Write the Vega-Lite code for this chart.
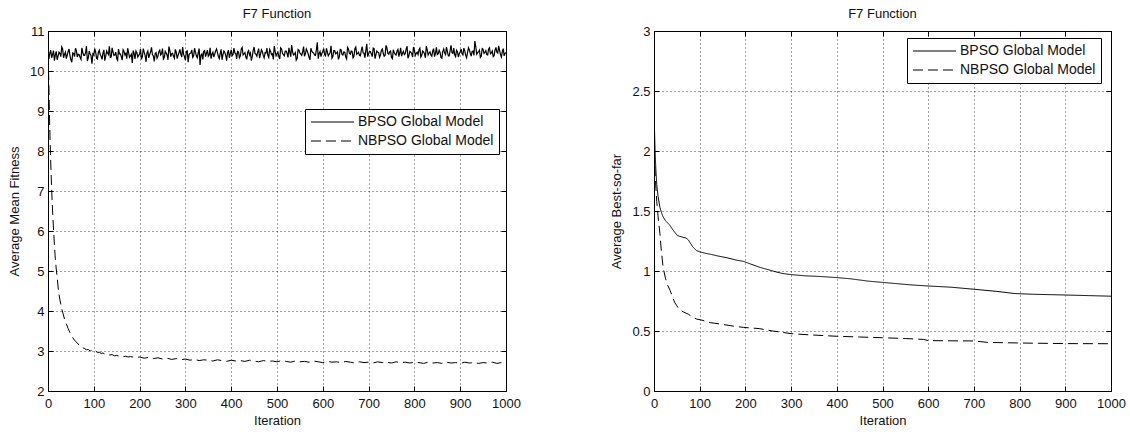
{
  "$schema": "https://vega.github.io/schema/vega-lite/v6.json",
  "background": "white",
  "padding": {"left": 8, "top": 7, "right": 0, "bottom": 0},
  "bounds": "flush",
  "spacing": 148,
  "config": {
    "font": "Liberation Sans",
    "view": {"stroke": "black", "strokeWidth": 1},
    "axis": {
      "labelFont": "Liberation Sans",
      "labelFontSize": 13,
      "labelColor": "#111",
      "labelFlush": false,
      "titleFont": "Liberation Sans",
      "titleFontSize": 13,
      "titleFontWeight": "normal",
      "titleColor": "#111",
      "domainColor": "black",
      "tickColor": "black",
      "tickSize": -5,
      "labelPadding": 11,
      "gridColor": "black",
      "gridDash": [1, 3],
      "gridOpacity": 0.75
    },
    "title": {"font": "Liberation Sans", "fontSize": 13, "fontWeight": "normal", "color": "#111", "offset": 4},
    "legend": {
      "symbolType": "stroke",
      "symbolSize": 1850,
      "symbolStrokeColor": "black",
      "symbolStrokeWidth": 1,
      "labelFont": "Liberation Sans",
      "labelFontSize": 14,
      "labelColor": "#111",
      "strokeColor": "black",
      "fillColor": "white",
      "padding": 5,
      "rowPadding": 3,
      "labelOffset": 3,
      "clipHeight": 16,
      "cornerRadius": 0
    }
  },
  "datasets": {
    "leftBPSO": [{"it":0,"v":10.38},{"it":4,"v":10.45},{"it":8,"v":10.33},{"it":12,"v":10.51},{"it":16,"v":10.40},{"it":20,"v":10.28},{"it":24,"v":10.47},{"it":28,"v":10.36},{"it":32,"v":10.55},{"it":36,"v":10.42},
{"it":40,"v":10.31},{"it":44,"v":10.49},{"it":48,"v":10.38},{"it":52,"v":10.22},{"it":56,"v":10.44},{"it":60,"v":10.57},{"it":64,"v":10.35},{"it":68,"v":10.41},{"it":72,"v":10.29},{"it":76,"v":10.46},
{"it":80,"v":10.39},{"it":84,"v":10.62},{"it":88,"v":10.33},{"it":92,"v":10.43},{"it":96,"v":10.18},{"it":100,"v":10.40},{"it":104,"v":10.48},{"it":108,"v":10.30},{"it":112,"v":10.52},{"it":116,"v":10.37},
{"it":120,"v":10.44},{"it":124,"v":10.26},{"it":128,"v":10.50},{"it":132,"v":10.41},{"it":136,"v":10.34},{"it":140,"v":10.58},{"it":144,"v":10.39},{"it":148,"v":10.47},{"it":152,"v":10.27},{"it":156,"v":10.43},
{"it":160,"v":10.36},{"it":164,"v":10.53},{"it":168,"v":10.40},{"it":172,"v":10.31},{"it":176,"v":10.46},{"it":180,"v":10.38},{"it":184,"v":10.20},{"it":188,"v":10.44},{"it":192,"v":10.50},{"it":196,"v":10.35},
{"it":200,"v":10.42},{"it":204,"v":10.29},{"it":208,"v":10.56},{"it":212,"v":10.39},{"it":216,"v":10.45},{"it":220,"v":10.33},{"it":224,"v":10.48},{"it":228,"v":10.41},{"it":232,"v":10.24},{"it":236,"v":10.46},
{"it":240,"v":10.37},{"it":244,"v":10.52},{"it":248,"v":10.43},{"it":252,"v":10.30},{"it":256,"v":10.49},{"it":260,"v":10.40},{"it":264,"v":10.61},{"it":268,"v":10.36},{"it":272,"v":10.44},{"it":276,"v":10.32},
{"it":280,"v":10.47},{"it":284,"v":10.39},{"it":288,"v":10.54},{"it":292,"v":10.35},{"it":296,"v":10.42},{"it":300,"v":10.27},{"it":304,"v":10.50},{"it":308,"v":10.41},{"it":312,"v":10.45},{"it":316,"v":10.34},
{"it":320,"v":10.57},{"it":324,"v":10.38},{"it":328,"v":10.46},{"it":332,"v":10.15},{"it":336,"v":10.43},{"it":340,"v":10.49},{"it":344,"v":10.36},{"it":348,"v":10.52},{"it":352,"v":10.40},{"it":356,"v":10.31},
{"it":360,"v":10.47},{"it":364,"v":10.42},{"it":368,"v":10.55},{"it":372,"v":10.37},{"it":376,"v":10.44},{"it":380,"v":10.28},{"it":384,"v":10.50},{"it":388,"v":10.39},{"it":392,"v":10.46},{"it":396,"v":10.33},
{"it":400,"v":10.53},{"it":404,"v":10.41},{"it":408,"v":10.45},{"it":412,"v":10.30},{"it":416,"v":10.48},{"it":420,"v":10.38},{"it":424,"v":10.59},{"it":428,"v":10.43},{"it":432,"v":10.35},{"it":436,"v":10.47},
{"it":440,"v":10.40},{"it":444,"v":10.26},{"it":448,"v":10.51},{"it":452,"v":10.44},{"it":456,"v":10.37},{"it":460,"v":10.56},{"it":464,"v":10.42},{"it":468,"v":10.48},{"it":472,"v":10.33},{"it":476,"v":10.45},
{"it":480,"v":10.39},{"it":484,"v":10.54},{"it":488,"v":10.41},{"it":492,"v":10.29},{"it":496,"v":10.49},{"it":500,"v":10.43},{"it":504,"v":10.36},{"it":508,"v":10.58},{"it":512,"v":10.44},{"it":516,"v":10.38},
{"it":520,"v":10.50},{"it":524,"v":10.34},{"it":528,"v":10.47},{"it":532,"v":10.65},{"it":536,"v":10.40},{"it":540,"v":10.46},{"it":544,"v":10.31},{"it":548,"v":10.52},{"it":552,"v":10.42},{"it":556,"v":10.48},
{"it":560,"v":10.37},{"it":564,"v":10.55},{"it":568,"v":10.43},{"it":572,"v":10.28},{"it":576,"v":10.50},{"it":580,"v":10.45},{"it":584,"v":10.39},{"it":588,"v":10.72},{"it":592,"v":10.44},{"it":596,"v":10.36},
{"it":600,"v":10.49},{"it":604,"v":10.41},{"it":608,"v":10.57},{"it":612,"v":10.38},{"it":616,"v":10.46},{"it":620,"v":10.32},{"it":624,"v":10.51},{"it":628,"v":10.43},{"it":632,"v":10.48},{"it":636,"v":10.35},
{"it":640,"v":10.53},{"it":644,"v":10.40},{"it":648,"v":10.47},{"it":652,"v":10.30},{"it":656,"v":10.55},{"it":660,"v":10.42},{"it":664,"v":10.49},{"it":668,"v":10.37},{"it":672,"v":10.60},{"it":676,"v":10.44},
{"it":680,"v":10.39},{"it":684,"v":10.51},{"it":688,"v":10.45},{"it":692,"v":10.33},{"it":696,"v":10.68},{"it":700,"v":10.43},{"it":704,"v":10.48},{"it":708,"v":10.36},{"it":712,"v":10.56},{"it":716,"v":10.41},
{"it":720,"v":10.47},{"it":724,"v":10.34},{"it":728,"v":10.52},{"it":732,"v":10.44},{"it":736,"v":10.39},{"it":740,"v":10.58},{"it":744,"v":10.42},{"it":748,"v":10.50},{"it":752,"v":10.31},{"it":756,"v":10.46},
{"it":760,"v":10.40},{"it":764,"v":10.54},{"it":768,"v":10.45},{"it":772,"v":10.37},{"it":776,"v":10.49},{"it":780,"v":10.43},{"it":784,"v":10.62},{"it":788,"v":10.38},{"it":792,"v":10.47},{"it":796,"v":10.35},
{"it":800,"v":10.52},{"it":804,"v":10.44},{"it":808,"v":10.41},{"it":812,"v":10.57},{"it":816,"v":10.39},{"it":820,"v":10.48},{"it":824,"v":10.33},{"it":828,"v":10.53},{"it":832,"v":10.45},{"it":836,"v":10.40},
{"it":840,"v":10.50},{"it":844,"v":10.36},{"it":848,"v":10.59},{"it":852,"v":10.43},{"it":856,"v":10.47},{"it":860,"v":10.32},{"it":864,"v":10.55},{"it":868,"v":10.41},{"it":872,"v":10.49},{"it":876,"v":10.38},
{"it":880,"v":10.64},{"it":884,"v":10.44},{"it":888,"v":10.40},{"it":892,"v":10.52},{"it":896,"v":10.35},{"it":900,"v":10.48},{"it":904,"v":10.43},{"it":908,"v":10.57},{"it":912,"v":10.39},{"it":916,"v":10.46},
{"it":920,"v":10.53},{"it":924,"v":10.37},{"it":928,"v":10.50},{"it":932,"v":10.75},{"it":936,"v":10.42},{"it":940,"v":10.48},{"it":944,"v":10.34},{"it":948,"v":10.56},{"it":952,"v":10.44},{"it":956,"v":10.51},
{"it":960,"v":10.40},{"it":964,"v":10.58},{"it":968,"v":10.45},{"it":972,"v":10.36},{"it":976,"v":10.52},{"it":980,"v":10.47},{"it":984,"v":10.63},{"it":988,"v":10.41},{"it":992,"v":10.49},{"it":996,"v":10.38},
{"it":1000,"v":10.46},
{"it":2,"v":10.30},{"it":6,"v":10.52},{"it":10,"v":10.41},{"it":14,"v":10.26},{"it":18,"v":10.49},{"it":22,"v":10.37},{"it":26,"v":10.44},{"it":30,"v":10.60},{"it":34,"v":10.33},{"it":38,"v":10.47},
{"it":42,"v":10.40},{"it":46,"v":10.55},{"it":50,"v":10.28},{"it":54,"v":10.45},{"it":58,"v":10.36},{"it":62,"v":10.51},{"it":66,"v":10.42},{"it":70,"v":10.34},{"it":74,"v":10.58},{"it":78,"v":10.39},
{"it":82,"v":10.46},{"it":86,"v":10.25},{"it":90,"v":10.50},{"it":94,"v":10.38},{"it":98,"v":10.43},{"it":102,"v":10.56},{"it":106,"v":10.32},{"it":110,"v":10.47},{"it":114,"v":10.41},{"it":118,"v":10.29},
{"it":122,"v":10.53},{"it":126,"v":10.37},{"it":130,"v":10.45},{"it":134,"v":10.62},{"it":138,"v":10.35},{"it":142,"v":10.48},{"it":146,"v":10.40},{"it":150,"v":10.31},{"it":154,"v":10.55},{"it":158,"v":10.43},
{"it":162,"v":10.27},{"it":166,"v":10.49},{"it":170,"v":10.44},{"it":174,"v":10.57},{"it":178,"v":10.34},{"it":182,"v":10.42},{"it":186,"v":10.51},{"it":190,"v":10.30},{"it":194,"v":10.46},{"it":198,"v":10.39},
{"it":202,"v":10.55},{"it":206,"v":10.36},{"it":210,"v":10.47},{"it":214,"v":10.23},{"it":218,"v":10.50},{"it":222,"v":10.41},{"it":226,"v":10.59},{"it":230,"v":10.38},{"it":234,"v":10.44},{"it":238,"v":10.32},
{"it":242,"v":10.48},{"it":246,"v":10.40},{"it":250,"v":10.56},{"it":254,"v":10.34},{"it":258,"v":10.45},{"it":262,"v":10.28},{"it":266,"v":10.52},{"it":270,"v":10.43},{"it":274,"v":10.37},{"it":278,"v":10.54},
{"it":282,"v":10.31},{"it":286,"v":10.46},{"it":290,"v":10.42},{"it":294,"v":10.60},{"it":298,"v":10.36},{"it":302,"v":10.49},{"it":306,"v":10.22},{"it":310,"v":10.44},{"it":314,"v":10.53},{"it":318,"v":10.38},
{"it":322,"v":10.47},{"it":326,"v":10.33},{"it":330,"v":10.56},{"it":334,"v":10.40},{"it":338,"v":10.29},{"it":342,"v":10.51},{"it":346,"v":10.44},{"it":350,"v":10.37},{"it":354,"v":10.58},{"it":358,"v":10.42},
{"it":362,"v":10.35},{"it":366,"v":10.50},{"it":370,"v":10.46},{"it":374,"v":10.31},{"it":378,"v":10.54},{"it":382,"v":10.41},{"it":386,"v":10.47},{"it":390,"v":10.26},{"it":394,"v":10.52},{"it":398,"v":10.43},
{"it":402,"v":10.38},{"it":406,"v":10.57},{"it":410,"v":10.44},{"it":414,"v":10.49},{"it":418,"v":10.33},{"it":422,"v":10.55},{"it":426,"v":10.40},{"it":430,"v":10.46},{"it":434,"v":10.29},{"it":438,"v":10.51},
{"it":442,"v":10.45},{"it":446,"v":10.36},{"it":450,"v":10.60},{"it":454,"v":10.42},{"it":458,"v":10.48},{"it":462,"v":10.32},{"it":466,"v":10.53},{"it":470,"v":10.39},{"it":474,"v":10.46},{"it":478,"v":10.57},
{"it":482,"v":10.34},{"it":486,"v":10.49},{"it":490,"v":10.43},{"it":494,"v":10.62},{"it":498,"v":10.38},{"it":502,"v":10.47},{"it":506,"v":10.30},{"it":510,"v":10.55},{"it":514,"v":10.41},{"it":518,"v":10.50},
{"it":522,"v":10.44},{"it":526,"v":10.58},{"it":530,"v":10.36},{"it":534,"v":10.48},{"it":538,"v":10.42},{"it":542,"v":10.27},{"it":546,"v":10.54},{"it":550,"v":10.45},{"it":554,"v":10.39},{"it":558,"v":10.61},
{"it":562,"v":10.43},{"it":566,"v":10.50},{"it":570,"v":10.34},{"it":574,"v":10.57},{"it":578,"v":10.46},{"it":582,"v":10.40},{"it":586,"v":10.53},{"it":590,"v":10.31},{"it":594,"v":10.49},{"it":598,"v":10.44},
{"it":602,"v":10.56},{"it":606,"v":10.38},{"it":610,"v":10.47},{"it":614,"v":10.42},{"it":618,"v":10.63},{"it":622,"v":10.36},{"it":626,"v":10.51},{"it":630,"v":10.45},{"it":634,"v":10.29},{"it":638,"v":10.54},
{"it":642,"v":10.41},{"it":646,"v":10.48},{"it":650,"v":10.35},{"it":654,"v":10.59},{"it":658,"v":10.44},{"it":662,"v":10.50},{"it":666,"v":10.33},{"it":670,"v":10.56},{"it":674,"v":10.42},{"it":678,"v":10.47},
{"it":682,"v":10.38},{"it":686,"v":10.61},{"it":690,"v":10.45},{"it":694,"v":10.52},{"it":698,"v":10.36},{"it":702,"v":10.49},{"it":706,"v":10.43},{"it":710,"v":10.57},{"it":714,"v":10.31},{"it":718,"v":10.50},
{"it":722,"v":10.46},{"it":726,"v":10.40},{"it":730,"v":10.55},{"it":734,"v":10.37},{"it":738,"v":10.64},{"it":742,"v":10.44},{"it":746,"v":10.48},{"it":750,"v":10.34},{"it":754,"v":10.53},{"it":758,"v":10.42},
{"it":762,"v":10.50},{"it":766,"v":10.36},{"it":770,"v":10.58},{"it":774,"v":10.45},{"it":778,"v":10.41},{"it":782,"v":10.55},{"it":786,"v":10.32},{"it":790,"v":10.49},{"it":794,"v":10.44},{"it":798,"v":10.60},
{"it":802,"v":10.39},{"it":806,"v":10.47},{"it":810,"v":10.53},{"it":814,"v":10.35},{"it":818,"v":10.50},{"it":822,"v":10.43},{"it":826,"v":10.62},{"it":830,"v":10.40},{"it":834,"v":10.48},{"it":838,"v":10.37},
{"it":842,"v":10.56},{"it":846,"v":10.44},{"it":850,"v":10.41},{"it":854,"v":10.52},{"it":858,"v":10.34},{"it":862,"v":10.49},{"it":866,"v":10.45},{"it":870,"v":10.60},{"it":874,"v":10.38},{"it":878,"v":10.51},
{"it":882,"v":10.46},{"it":886,"v":10.57},{"it":890,"v":10.36},{"it":894,"v":10.48},{"it":898,"v":10.43},{"it":902,"v":10.55},{"it":906,"v":10.40},{"it":910,"v":10.50},{"it":914,"v":10.33},{"it":918,"v":10.58},
{"it":922,"v":10.44},{"it":926,"v":10.49},{"it":930,"v":10.39},{"it":934,"v":10.61},{"it":938,"v":10.46},{"it":942,"v":10.52},{"it":946,"v":10.37},{"it":950,"v":10.54},{"it":954,"v":10.47},{"it":958,"v":10.41},
{"it":962,"v":10.55},{"it":966,"v":10.43},{"it":970,"v":10.50},{"it":974,"v":10.38},{"it":978,"v":10.59},{"it":982,"v":10.45},{"it":986,"v":10.51},{"it":990,"v":10.35},{"it":994,"v":10.56},{"it":998,"v":10.44}],
    "leftNBPSO": [{"it":0,"v":10.4},{"it":1,"v":10.1},{"it":2,"v":9.6},{"it":3,"v":9.0},{"it":4,"v":8.5},{"it":5,"v":8.1},{"it":6,"v":7.7},{"it":7,"v":7.35},{"it":8,"v":7.05},{"it":9,"v":6.75},{"it":10,"v":6.5},{"it":12,"v":6.05},{"it":14,"v":5.65},{"it":16,"v":5.3},{"it":18,"v":5.05},{"it":20,"v":4.85},{"it":22,"v":4.6},{"it":24,"v":4.42},{"it":26,"v":4.28},{"it":28,"v":4.17},{"it":30,"v":4.05},{"it":33,"v":3.93},{"it":36,"v":3.8},{"it":40,"v":3.68},{"it":44,"v":3.56},{"it":48,"v":3.46},{"it":52,"v":3.37},{"it":56,"v":3.3},{"it":60,"v":3.24},{"it":64,"v":3.2},{"it":68,"v":3.14},{"it":72,"v":3.12},{"it":76,"v":3.08},{"it":80,"v":3.06},{"it":84,"v":3.03},{"it":88,"v":3.04},{"it":92,"v":3.0},{"it":96,"v":3.02},{"it":100,"v":2.98},{"it":104,"v":3.0},{"it":108,"v":2.96},{"it":112,"v":2.97},{"it":116,"v":2.94},{"it":120,"v":2.95},{"it":125,"v":2.92},{"it":130,"v":2.93},{"it":135,"v":2.9},{"it":140,"v":2.91},{"it":145,"v":2.88},{"it":150,"v":2.89},{"it":155,"v":2.87},{"it":160,"v":2.88},{"it":165,"v":2.86},{"it":170,"v":2.87},{"it":175,"v":2.85},{"it":180,"v":2.86},{"it":190,"v":2.84},{"it":200,"v":2.85},{"it":210,"v":2.82},{"it":220,"v":2.84},{"it":230,"v":2.81},{"it":240,"v":2.83},{"it":250,"v":2.8},{"it":260,"v":2.82},{"it":270,"v":2.79},{"it":280,"v":2.81},{"it":290,"v":2.78},{"it":300,"v":2.8},
{"it":310,"v":2.77},{"it":320,"v":2.79},{"it":330,"v":2.76},{"it":340,"v":2.78},{"it":350,"v":2.77},{"it":360,"v":2.75},{"it":370,"v":2.78},{"it":380,"v":2.76},{"it":390,"v":2.74},{"it":400,"v":2.77},{"it":410,"v":2.75},{"it":420,"v":2.76},{"it":430,"v":2.74},{"it":440,"v":2.77},{"it":450,"v":2.75},{"it":460,"v":2.73},{"it":470,"v":2.76},{"it":480,"v":2.74},{"it":490,"v":2.75},{"it":500,"v":2.73},{"it":510,"v":2.76},{"it":520,"v":2.74},{"it":530,"v":2.72},{"it":540,"v":2.75},{"it":550,"v":2.73},{"it":560,"v":2.74},{"it":570,"v":2.72},{"it":580,"v":2.75},{"it":590,"v":2.73},{"it":600,"v":2.71},{"it":610,"v":2.74},{"it":620,"v":2.72},{"it":630,"v":2.73},{"it":640,"v":2.71},{"it":650,"v":2.74},{"it":660,"v":2.72},{"it":670,"v":2.70},{"it":680,"v":2.73},{"it":690,"v":2.71},{"it":700,"v":2.72},{"it":710,"v":2.70},{"it":720,"v":2.73},{"it":730,"v":2.71},{"it":740,"v":2.72},{"it":750,"v":2.70},{"it":760,"v":2.73},{"it":770,"v":2.71},{"it":780,"v":2.72},{"it":790,"v":2.70},{"it":800,"v":2.72},{"it":810,"v":2.71},{"it":820,"v":2.69},{"it":830,"v":2.72},{"it":840,"v":2.70},{"it":850,"v":2.71},{"it":860,"v":2.69},{"it":870,"v":2.72},{"it":880,"v":2.70},{"it":890,"v":2.71},{"it":900,"v":2.69},{"it":910,"v":2.72},{"it":920,"v":2.70},{"it":930,"v":2.71},{"it":940,"v":2.69},{"it":950,"v":2.71},{"it":960,"v":2.70},{"it":970,"v":2.72},{"it":980,"v":2.69},{"it":990,"v":2.71},{"it":1000,"v":2.70}],
    "rightBPSO": [{"it":0,"v":2.29},{"it":1,"v":2.2},{"it":2,"v":2.05},{"it":3,"v":1.94},{"it":4,"v":1.85},{"it":6,"v":1.72},{"it":9,"v":1.62},{"it":13,"v":1.53},{"it":17,"v":1.48},{"it":20,"v":1.45},{"it":25,"v":1.42},{"it":30,"v":1.4},{"it":35,"v":1.38},{"it":40,"v":1.35},{"it":46,"v":1.32},{"it":50,"v":1.3},{"it":55,"v":1.29},{"it":60,"v":1.285},{"it":70,"v":1.275},{"it":75,"v":1.26},{"it":80,"v":1.23},{"it":85,"v":1.2},{"it":93,"v":1.17},{"it":100,"v":1.16},{"it":110,"v":1.15},{"it":123,"v":1.14},{"it":140,"v":1.125},{"it":160,"v":1.11},{"it":181,"v":1.09},{"it":196,"v":1.08},{"it":210,"v":1.06},{"it":232,"v":1.03},{"it":260,"v":1.0},{"it":280,"v":0.98},{"it":300,"v":0.97},{"it":330,"v":0.96},{"it":360,"v":0.955},{"it":400,"v":0.945},{"it":430,"v":0.935},{"it":470,"v":0.915},{"it":500,"v":0.905},{"it":530,"v":0.895},{"it":560,"v":0.885},{"it":600,"v":0.875},{"it":650,"v":0.865},{"it":700,"v":0.848},{"it":750,"v":0.83},{"it":790,"v":0.812},{"it":830,"v":0.806},{"it":900,"v":0.8},{"it":950,"v":0.795},{"it":1000,"v":0.79}],
    "rightNBPSO": [{"it":0,"v":2.0},{"it":2,"v":1.85},{"it":4,"v":1.7},{"it":6,"v":1.58},{"it":9,"v":1.45},{"it":13,"v":1.31},{"it":16,"v":1.17},{"it":20,"v":1.03},{"it":25,"v":0.94},{"it":30,"v":0.88},{"it":35,"v":0.84},{"it":40,"v":0.79},{"it":45,"v":0.74},{"it":50,"v":0.71},{"it":55,"v":0.68},{"it":64,"v":0.66},{"it":75,"v":0.64},{"it":85,"v":0.615},{"it":93,"v":0.6},{"it":105,"v":0.59},{"it":123,"v":0.57},{"it":150,"v":0.555},{"it":175,"v":0.54},{"it":196,"v":0.53},{"it":230,"v":0.52},{"it":260,"v":0.5},{"it":300,"v":0.478},{"it":340,"v":0.468},{"it":400,"v":0.456},{"it":450,"v":0.45},{"it":500,"v":0.444},{"it":550,"v":0.437},{"it":590,"v":0.43},{"it":600,"v":0.42},{"it":650,"v":0.418},{"it":700,"v":0.417},{"it":730,"v":0.405},{"it":800,"v":0.4},{"it":900,"v":0.395},{"it":1000,"v":0.394}]
  },
  "resolve": {"scale": {"strokeDash": "independent"}, "legend": {"strokeDash": "independent"}},
  "hconcat": [
    {
      "width": 458,
      "height": 360,
      "title": "F7 Function",
      "layer": [
        {
          "data": {"name": "leftBPSO"},
          "mark": {"type": "line", "color": "black", "strokeWidth": 1.2, "clip": true},
          "encoding": {
            "x": {"field": "it", "type": "quantitative", "scale": {"domain": [0, 1000], "nice": false},
                  "axis": {"orient": "bottom", "title": "Iteration", "format": "d", "values": [0,100,200,300,400,500,600,700,800,900,1000], "grid": true, "titlePadding": 4}},
            "y": {"field": "v", "type": "quantitative", "scale": {"domain": [2, 11], "nice": false, "zero": false},
                  "axis": {"orient": "left", "title": "Average Mean Fitness", "values": [2,3,4,5,6,7,8,9,10,11], "grid": true, "labelPadding": 9, "titlePadding": 8}},
            "strokeDash": {"datum": "BPSO Global Model", "type": "nominal",
                           "scale": {"domain": ["BPSO Global Model", "NBPSO Global Model"], "range": [[1, 0], [10, 5]]},
                           "legend": {"title": null, "orient": "none", "legendX": 257, "legendY": 78, "labelExpr": "datum.label + '\u00a0\u00a0\u00a0\u00a0'"}}
          }
        },
        {
          "data": {"name": "leftNBPSO"},
          "mark": {"type": "line", "color": "black", "strokeWidth": 1, "clip": true},
          "encoding": {
            "x": {"field": "it", "type": "quantitative", "axis": null},
            "y": {"field": "v", "type": "quantitative", "axis": null},
            "strokeDash": {"datum": "NBPSO Global Model", "type": "nominal"}
          }
        },
        {
          "data": {"name": "leftNBPSO"},
          "mark": {"type": "line", "opacity": 0},
          "encoding": {
            "x": {"field": "it", "type": "quantitative",
                  "axis": {"orient": "top", "labels": false, "title": null, "grid": false, "domain": false, "values": [0,100,200,300,400,500,600,700,800,900,1000]}},
            "y": {"field": "v", "type": "quantitative",
                  "axis": {"orient": "right", "labels": false, "title": null, "grid": false, "domain": false, "values": [2,3,4,5,6,7,8,9,10,11]}}
          }
        }
      ]
    },
    {
      "width": 457,
      "height": 360,
      "title": "F7 Function",
      "layer": [
        {
          "data": {"name": "rightBPSO"},
          "mark": {"type": "line", "color": "black", "strokeWidth": 1, "clip": true},
          "encoding": {
            "x": {"field": "it", "type": "quantitative", "scale": {"domain": [0, 1000], "nice": false},
                  "axis": {"orient": "bottom", "title": "Iteration", "format": "d", "values": [0,100,200,300,400,500,600,700,800,900,1000], "grid": true, "titlePadding": 4}},
            "y": {"field": "v", "type": "quantitative", "scale": {"domain": [0, 3], "nice": false},
                  "axis": {"orient": "left", "title": "Average Best-so-far", "values": [0,0.5,1,1.5,2,2.5,3], "format": "~g", "grid": true, "labelPadding": 9, "titlePadding": 8}},
            "strokeDash": {"datum": "BPSO Global Model", "type": "nominal",
                           "scale": {"domain": ["BPSO Global Model", "NBPSO Global Model"], "range": [[1, 0], [10, 5]]},
                           "legend": {"title": null, "orient": "none", "legendX": 253, "legendY": 7, "labelExpr": "datum.label + '\u00a0\u00a0\u00a0\u00a0'"}}
          }
        },
        {
          "data": {"name": "rightNBPSO"},
          "mark": {"type": "line", "color": "black", "strokeWidth": 1, "clip": true},
          "encoding": {
            "x": {"field": "it", "type": "quantitative", "axis": null},
            "y": {"field": "v", "type": "quantitative", "axis": null},
            "strokeDash": {"datum": "NBPSO Global Model", "type": "nominal"}
          }
        },
        {
          "data": {"name": "rightNBPSO"},
          "mark": {"type": "line", "opacity": 0},
          "encoding": {
            "x": {"field": "it", "type": "quantitative",
                  "axis": {"orient": "top", "labels": false, "title": null, "grid": false, "domain": false, "values": [0,100,200,300,400,500,600,700,800,900,1000]}},
            "y": {"field": "v", "type": "quantitative",
                  "axis": {"orient": "right", "labels": false, "title": null, "grid": false, "domain": false, "values": [0,0.5,1,1.5,2,2.5,3]}}
          }
        }
      ]
    }
  ]
}
